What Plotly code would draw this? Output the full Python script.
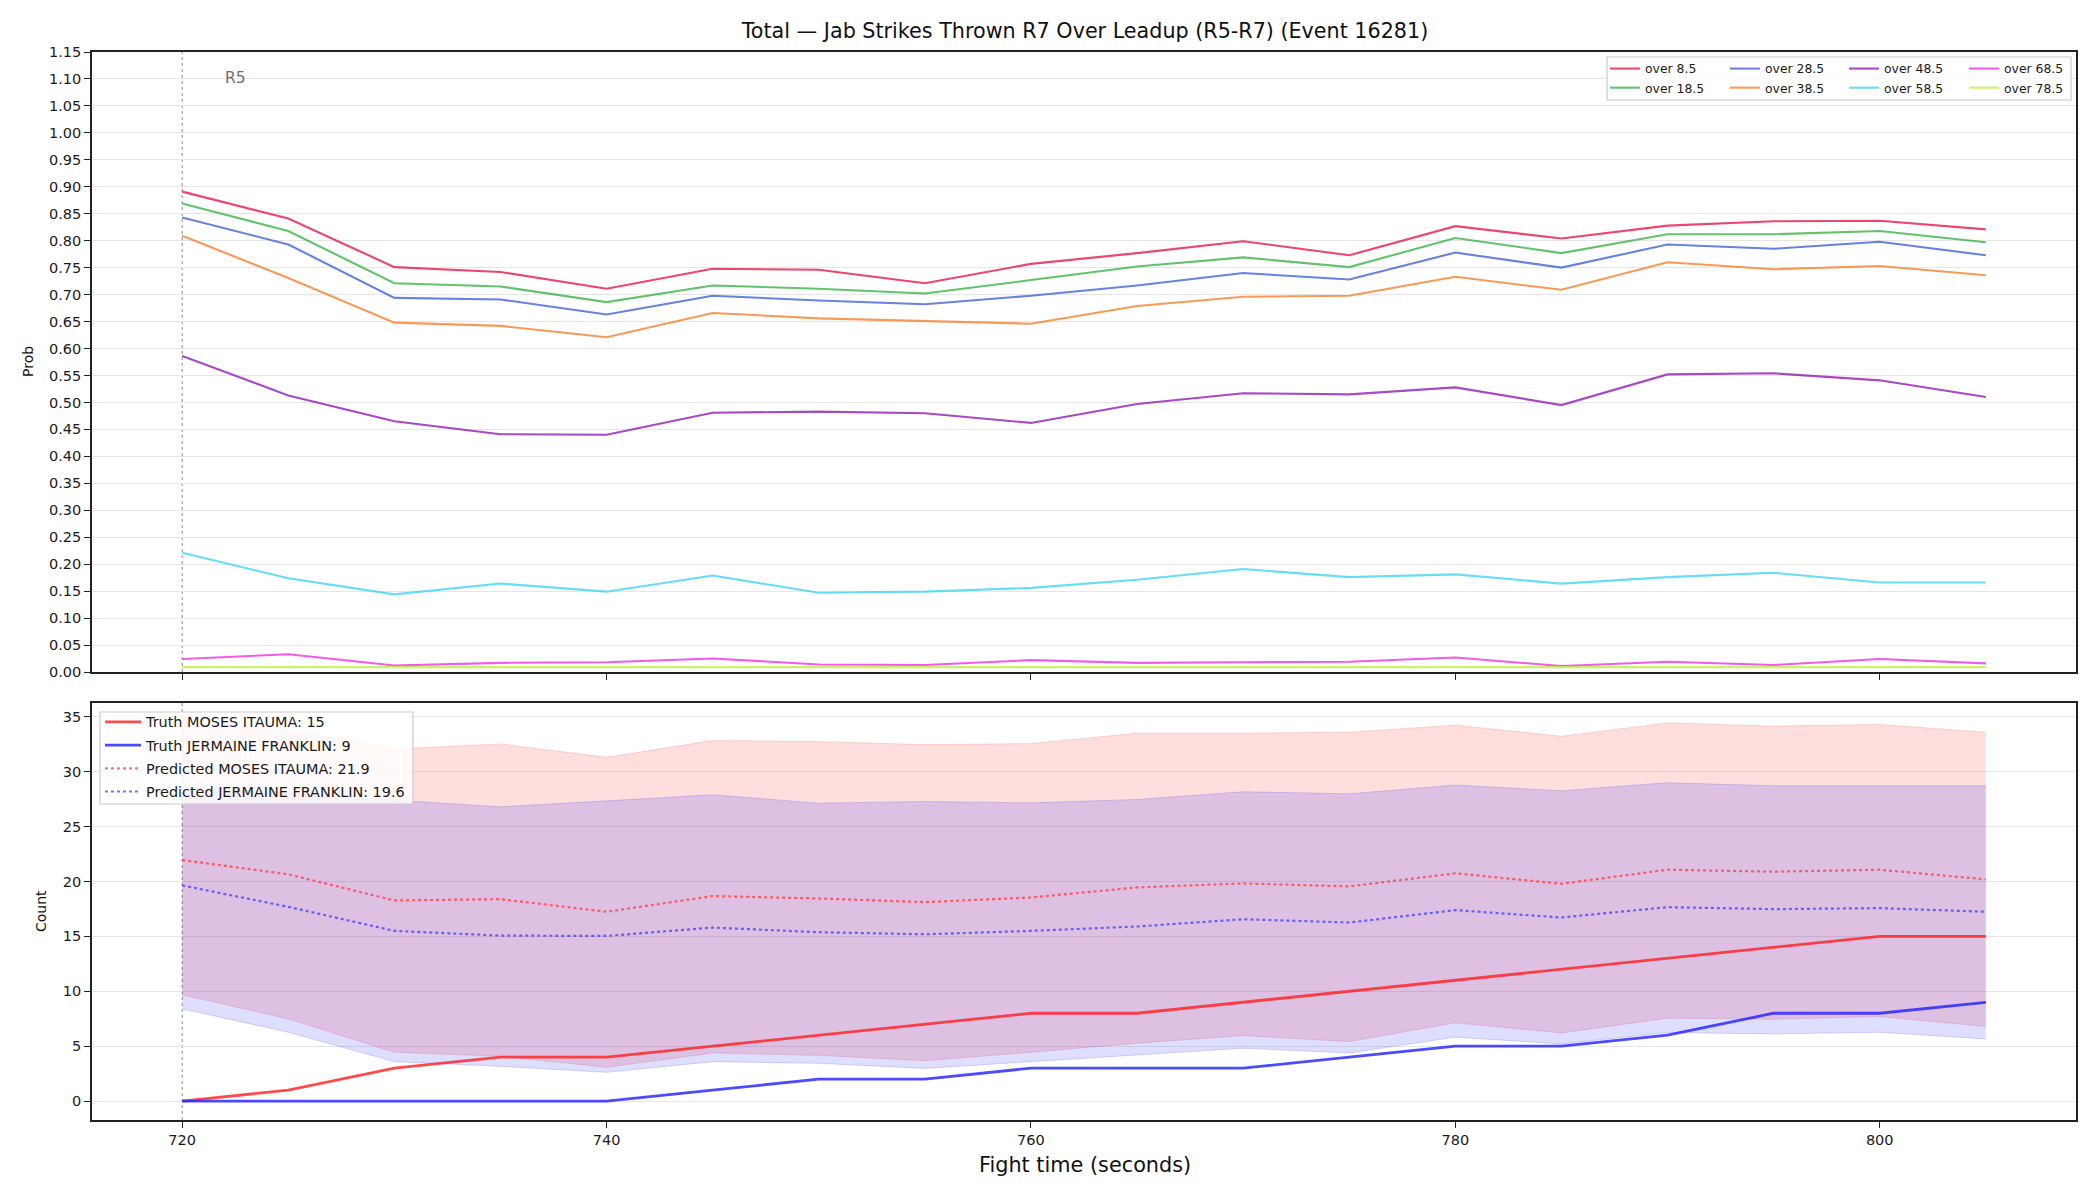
import plotly.graph_objects as go

# ---------------- data ----------------
times = [720, 725, 730, 735, 740, 745, 750, 755, 760, 765, 770, 775, 780, 785, 790, 795, 800, 805]

over_8_5 = [0.891, 0.841, 0.751, 0.742, 0.711, 0.748, 0.746, 0.721, 0.757, 0.777, 0.799, 0.773, 0.827, 0.804, 0.828, 0.836, 0.837, 0.821]
over_18_5 = [0.869, 0.818, 0.721, 0.715, 0.686, 0.717, 0.711, 0.702, 0.727, 0.752, 0.769, 0.751, 0.805, 0.777, 0.812, 0.812, 0.818, 0.797]
over_28_5 = [0.843, 0.793, 0.694, 0.691, 0.663, 0.698, 0.689, 0.682, 0.698, 0.717, 0.740, 0.728, 0.778, 0.750, 0.793, 0.785, 0.798, 0.773]
over_38_5 = [0.809, 0.731, 0.648, 0.642, 0.621, 0.666, 0.656, 0.651, 0.646, 0.679, 0.696, 0.698, 0.733, 0.709, 0.760, 0.747, 0.753, 0.736]
over_48_5 = [0.586, 0.513, 0.465, 0.441, 0.440, 0.481, 0.483, 0.480, 0.462, 0.497, 0.517, 0.515, 0.528, 0.495, 0.552, 0.554, 0.541, 0.510]
over_58_5 = [0.221, 0.174, 0.144, 0.164, 0.149, 0.179, 0.147, 0.149, 0.156, 0.171, 0.191, 0.176, 0.181, 0.164, 0.176, 0.184, 0.166, 0.166]
over_68_5 = [0.024, 0.033, 0.012, 0.017, 0.018, 0.025, 0.014, 0.013, 0.022, 0.017, 0.018, 0.019, 0.027, 0.011, 0.019, 0.013, 0.024, 0.016]
over_78_5 = [0.009, 0.009, 0.009, 0.009, 0.009, 0.009, 0.009, 0.009, 0.009, 0.009, 0.009, 0.009, 0.009, 0.009, 0.009, 0.009, 0.009, 0.009]

line_names = ["over 8.5", "over 18.5", "over 28.5", "over 38.5", "over 48.5", "over 58.5", "over 68.5", "over 78.5"]
line_values = [over_8_5, over_18_5, over_28_5, over_38_5, over_48_5, over_58_5, over_68_5, over_78_5]
line_colors = ["#e6194b", "#3cb44b", "#4363d8", "#f58231", "#911eb4", "#42d4f4", "#f032e6", "#bfef45"]

truth_moses = [0, 1, 3, 4, 4, 5, 6, 7, 8, 8, 9, 10, 11, 12, 13, 14, 15, 15]
truth_jermaine = [0, 0, 0, 0, 0, 1, 2, 2, 3, 3, 3, 4, 5, 5, 6, 8, 8, 9]
pred_moses = [21.95, 20.65, 18.27, 18.39, 17.24, 18.67, 18.45, 18.12, 18.54, 19.46, 19.82, 19.55, 20.74, 19.79, 21.07, 20.89, 21.07, 20.19]
pred_jermaine = [19.64, 17.69, 15.50, 15.07, 15.04, 15.80, 15.38, 15.19, 15.50, 15.90, 16.56, 16.26, 17.39, 16.72, 17.66, 17.48, 17.57, 17.24]
moses_lo = [9.68, 7.49, 4.45, 4.08, 3.08, 4.38, 4.17, 3.68, 4.45, 5.27, 5.97, 5.42, 7.13, 6.21, 7.55, 7.46, 7.70, 6.79]
moses_hi = [34.2, 33.8, 32.06, 32.52, 31.30, 32.83, 32.73, 32.46, 32.55, 33.50, 33.50, 33.59, 34.23, 33.22, 34.44, 34.14, 34.29, 33.59]
jermaine_lo = [8.40, 6.27, 3.59, 3.17, 2.62, 3.59, 3.44, 2.98, 3.59, 4.20, 4.81, 4.38, 5.82, 5.21, 6.24, 6.12, 6.27, 5.66]
jermaine_hi = [28.6, 28.0, 27.4, 26.80, 27.34, 27.89, 27.13, 27.28, 27.16, 27.47, 28.17, 27.98, 28.78, 28.26, 28.99, 28.71, 28.71, 28.71]

x_ticks = [720, 740, 760, 780, 800]
title_text = "Total \u2014 Jab Strikes Thrown R7 Over Leadup (R5-R7) (Event 16281)"

# ---------------- figure ----------------
FONT = "DejaVu Sans"
W, H = 2100, 1200
ML, MR, MT, MB = 92, 24, 52, 80
PW = W - ML - MR
PH = H - MT - MB


def px_x(p):
    return (p - ML) / PW


def px_y(p):
    return 1 - (p - MT) / PH


fig = go.Figure()

# top panel: probability lines, legends in 4 columns of 2
col_legends = ["legend", "legend3", "legend4", "legend5"]
for i, (name, vals, col) in enumerate(zip(line_names, line_values, line_colors)):
    fig.add_trace(go.Scatter(
        x=times, y=vals, mode="lines", name=name,
        line=dict(color=col, width=2.1), opacity=0.8,
        xaxis="x", yaxis="y", legend=col_legends[i // 2],
    ))

# bottom panel: bands
fig.add_trace(go.Scatter(x=times, y=moses_lo, mode="lines", line=dict(color="rgba(255,0,0,0.15)", width=1),
                         showlegend=False, xaxis="x2", yaxis="y2", hoverinfo="skip"))
fig.add_trace(go.Scatter(x=times, y=moses_hi, mode="lines", line=dict(color="rgba(255,0,0,0.15)", width=1),
                         fill="tonexty", fillcolor="rgba(255,0,0,0.13)",
                         showlegend=False, xaxis="x2", yaxis="y2", hoverinfo="skip"))
fig.add_trace(go.Scatter(x=times, y=jermaine_lo, mode="lines", line=dict(color="rgba(0,0,255,0.15)", width=1),
                         showlegend=False, xaxis="x2", yaxis="y2", hoverinfo="skip"))
fig.add_trace(go.Scatter(x=times, y=jermaine_hi, mode="lines", line=dict(color="rgba(0,0,255,0.15)", width=1),
                         fill="tonexty", fillcolor="rgba(0,0,255,0.13)",
                         showlegend=False, xaxis="x2", yaxis="y2", hoverinfo="skip"))

fig.add_trace(go.Scatter(x=times, y=truth_moses, mode="lines", name="Truth MOSES ITAUMA: 15", legendgroup="g1",
                         line=dict(color="rgba(255,30,30,0.8)", width=2.8), xaxis="x2", yaxis="y2", legend="legend2"))
fig.add_trace(go.Scatter(x=times, y=truth_jermaine, mode="lines", name="Truth JERMAINE FRANKLIN: 9", legendgroup="g2",
                         line=dict(color="rgba(30,30,255,0.8)", width=2.8), xaxis="x2", yaxis="y2", legend="legend2"))
fig.add_trace(go.Scatter(x=times, y=pred_moses, mode="lines", name="Predicted MOSES ITAUMA: 21.9", legendgroup="g3",
                         line=dict(color="rgba(255,40,40,0.65)", width=2.2, dash="dot"), xaxis="x2", yaxis="y2", legend="legend2"))
fig.add_trace(go.Scatter(x=times, y=pred_jermaine, mode="lines", name="Predicted JERMAINE FRANKLIN: 19.6", legendgroup="g4",
                         line=dict(color="rgba(40,40,255,0.65)", width=2.2, dash="dot"), xaxis="x2", yaxis="y2", legend="legend2"))

axis_common = dict(
    showline=True, mirror=True, linecolor="#222222", linewidth=1.6,
    ticks="outside", ticklen=6, tickwidth=1.4, tickcolor="#222222",
    tickfont=dict(family=FONT, size=14.5, color="#1a1a1a"), zeroline=False,
)

xrange = [715.75, 809.25]
layout = dict(
    width=W, height=H,
    margin=dict(l=ML, r=MR, t=MT, b=MB),
    paper_bgcolor="white", plot_bgcolor="white",
    font=dict(family=FONT, color="#1a1a1a"),
    title=dict(text=title_text, x=px_x(1085), xref="paper", y=1 - 31 / H, yref="container",
               xanchor="center", yanchor="middle", font=dict(family=FONT, size=20.7, color="#111111")),
    xaxis=dict(domain=[0, 1], anchor="y", range=xrange, tickvals=x_ticks, showticklabels=False,
               showgrid=False, **axis_common),
    yaxis=dict(domain=[px_y(672), 1], anchor="x", range=[0, 1.15], tick0=0, dtick=0.05, tickformat=".2f",
               showgrid=True, gridcolor="#e6e6e6", gridwidth=1, **axis_common),
    xaxis2=dict(domain=[0, 1], anchor="y2", range=xrange, tickvals=x_ticks, matches="x",
                showgrid=False, **axis_common),
    yaxis2=dict(domain=[0, px_y(703)], anchor="x2", range=[-1.72, 36.25], tick0=0, dtick=5,
                showgrid=True, gridcolor="#e6e6e6", gridwidth=1, **axis_common),
    showlegend=True,
)

leg_font = dict(family=FONT, size=12.4, color="#1a1a1a")
col_starts = [1605, 1725, 1844, 1964]
for key, xs in zip(col_legends, col_starts):
    layout[key] = dict(x=px_x(xs), xanchor="left", y=px_y(54), yanchor="top", xref="paper", yref="paper",
                       bgcolor="rgba(0,0,0,0)", borderwidth=0, font=leg_font, orientation="v",
                       traceorder="normal", tracegroupgap=0)
layout["legend2"] = dict(x=px_x(100), xanchor="left", y=px_y(706), yanchor="top",
                         bgcolor="rgba(0,0,0,0)", borderwidth=0, itemwidth=36,
                         traceorder="grouped", tracegroupgap=1.5,
                         font=dict(family=FONT, size=14.4, color="#1a1a1a"), orientation="v")

fig.update_layout(**layout)

# legend frames
fig.add_shape(type="rect", xref="paper", yref="paper",
              x0=px_x(1607), x1=px_x(2071), y0=px_y(100), y1=px_y(57),
              line=dict(color="#cccccc", width=1.2), fillcolor="rgba(255,255,255,0.8)", layer="above")
fig.add_shape(type="rect", xref="paper", yref="paper",
              x0=px_x(100), x1=px_x(413), y0=px_y(804), y1=px_y(712),
              line=dict(color="#cccccc", width=1.2), fillcolor="rgba(255,255,255,0.8)", layer="above")

# R5 markers
for xr, yr in [("x", "y domain"), ("x2", "y2 domain")]:
    fig.add_shape(type="line", xref=xr, yref=yr, x0=720, x1=720, y0=0, y1=1,
                  line=dict(color="#8a8a8a", width=1, dash="dot"), layer="below")

fig.add_annotation(x=720, xref="x", xshift=53, y=px_y(78), yref="paper", text="R5", showarrow=False,
                   font=dict(family=FONT, size=15.5, color="#707070"), xanchor="center", yanchor="middle")

# axis titles
fig.add_annotation(x=px_x(1085), y=px_y(1165), xref="paper", yref="paper", text="Fight time (seconds)",
                   showarrow=False, font=dict(family=FONT, size=20.8, color="#111111"),
                   xanchor="center", yanchor="middle")
fig.add_annotation(x=px_x(28), y=px_y(362), xref="paper", yref="paper", text="Prob", textangle=-90,
                   showarrow=False, font=dict(family=FONT, size=14, color="#111111"),
                   xanchor="center", yanchor="middle")
fig.add_annotation(x=px_x(41), y=px_y(911), xref="paper", yref="paper", text="Count", textangle=-90,
                   showarrow=False, font=dict(family=FONT, size=14, color="#111111"),
                   xanchor="center", yanchor="middle")

fig.write_html("out.html")
